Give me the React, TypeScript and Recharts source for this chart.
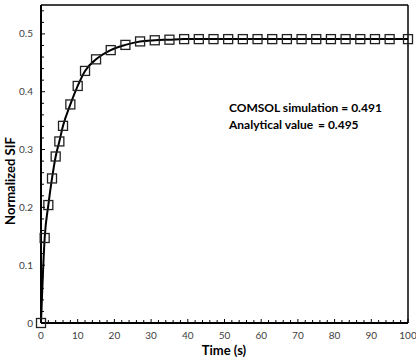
import { LineChart, Line, XAxis, YAxis, ReferenceLine } from 'recharts';

// sample times (s) and normalized SIF
const times = [0, 1, 2, 3, 4, 5, 6, 8, 10, 12, 15, 19, 23, 27, 31, 35, 39, 43, 47, 51, 55, 59, 63, 67, 71, 75, 79, 83, 87, 91, 95, 100];
const sif = [0, 0.147, 0.204, 0.25, 0.288, 0.314, 0.341, 0.378, 0.41, 0.436, 0.456, 0.472, 0.481, 0.487, 0.489, 0.49, 0.491, 0.491, 0.491, 0.491, 0.491, 0.491, 0.491, 0.491, 0.491, 0.491, 0.491, 0.491, 0.491, 0.491, 0.491, 0.491];

const xTicks = [0, 2, 4, 6, 8, 10, 12, 14, 16, 18, 20, 22, 24, 26, 28, 30, 32, 34, 36, 38, 40, 42, 44, 46, 48, 50, 52, 54, 56, 58, 60, 62, 64, 66, 68, 70, 72, 74, 76, 78, 80, 82, 84, 86, 88, 90, 92, 94, 96, 98, 100];
const yTicks = [0, 0.02, 0.04, 0.06, 0.08, 0.1, 0.12, 0.14, 0.16, 0.18, 0.2, 0.22, 0.24, 0.26, 0.28, 0.3, 0.32, 0.34, 0.36, 0.38, 0.4, 0.42, 0.44, 0.46, 0.48, 0.5, 0.52, 0.54];

const data = times.map((t, i) => ({ t, v: sif[i] }));

const FONT = 'Lato, "Open Sans", sans-serif';
const X_MARGIN = 9;
const Y_MARGIN = 8;

const XTick = ({ x, y, payload }: any) => {
  const v = payload.value;
  const major = Math.abs(v % 10) < 1e-6;
  const axisY = y - X_MARGIN;
  return (
    <g>
      <line x1={x} x2={x} y1={axisY} y2={axisY - (major ? 4 : 3)} stroke="#000" strokeWidth={1} />
      {major && (
        <text x={x} y={y} dy={7} textAnchor="middle" fontSize={10} fill="#404040" fontFamily={FONT}>
          {v}
        </text>
      )}
    </g>
  );
};

const YTick = ({ x, y, payload }: any) => {
  const v = payload.value;
  const major = Math.abs(Math.round(v * 100) % 10) === 0;
  const axisX = x + Y_MARGIN;
  return (
    <g>
      <line x1={axisX} x2={axisX + (major ? 4 : 3)} y1={y} y2={y} stroke="#000" strokeWidth={1} />
      {major && (
        <text x={x} y={y} dy={3.5} textAnchor="end" fontSize={10} fill="#404040" fontFamily={FONT}>
          {Number(v.toFixed(1))}
        </text>
      )}
    </g>
  );
};

const SquareDot = ({ cx, cy, index }: any) => (
  <rect key={index} x={cx - 4.5} y={cy - 4.5} width={9} height={9} fill="none" stroke="#222" strokeWidth={1.3} />
);

const titleStyle = { fontFamily: FONT, fontWeight: 700, fontSize: 13, fill: '#000' };
const noteStyle = { fontFamily: FONT, fontWeight: 700, fontSize: 12, fill: '#000' };

export default function App() {
  return (
    <div style={{ position: 'absolute', left: 0, top: 0, background: '#fff' }}>
      <LineChart width={416} height={360} data={data} margin={{ top: 5, right: 8, bottom: 17, left: 11 }}>
        <XAxis
          dataKey="t"
          type="number"
          domain={[0, 100]}
          ticks={xTicks}
          interval={0}
          tickSize={0}
          tickMargin={X_MARGIN}
          tick={<XTick />}
          axisLine={{ stroke: '#000', strokeWidth: 2 }}
          height={20}
        />
        <YAxis
          type="number"
          domain={[0, 0.55]}
          ticks={yTicks}
          interval={0}
          tickSize={0}
          tickMargin={Y_MARGIN}
          tick={<YTick />}
          axisLine={{ stroke: '#000', strokeWidth: 2 }}
          width={30}
        />
        <ReferenceLine y={0.55} stroke="#000" strokeWidth={1.5} />
        <ReferenceLine x={100} stroke="#000" strokeWidth={1.5} />
        <Line
          type="monotone"
          dataKey="v"
          stroke="#000"
          strokeWidth={2}
          dot={<SquareDot />}
          isAnimationActive={false}
        />
        <text x={224} y={355} textAnchor="middle" style={titleStyle}>
          Time (s)
        </text>
        <text x={15} y={181} textAnchor="middle" transform="rotate(-90, 15, 181)" style={titleStyle}>
          Normalized SIF
        </text>
        <text x={229} y={112} style={noteStyle}>
          COMSOL simulation = 0.491
        </text>
        <text y={129} style={noteStyle}>
          <tspan x={229}>Analytical value</tspan>
          <tspan x={318}>= 0.495</tspan>
        </text>
      </LineChart>
    </div>
  );
}
